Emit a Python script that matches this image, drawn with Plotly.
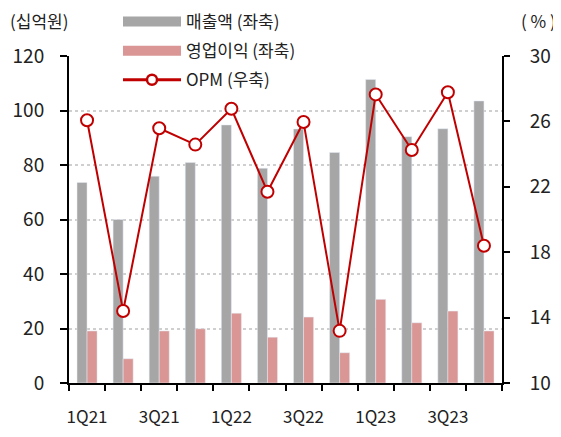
import plotly.graph_objects as go

quarters = ["1Q21", "2Q21", "3Q21", "4Q21", "1Q22", "2Q22", "3Q22", "4Q22",
            "1Q23", "2Q23", "3Q23", "4Q23"]
revenue = [73.6, 60.0, 75.9, 80.9, 94.7, 78.8, 93.2, 84.6, 111.4, 90.4, 93.3, 103.5]
op_profit = [19.1, 8.9, 19.1, 19.9, 25.6, 16.8, 24.2, 11.1, 30.7, 22.1, 26.4, 19.1]
opm = [26.07, 14.40, 25.58, 24.58, 26.77, 21.70, 25.96, 13.19, 27.65, 24.25, 27.78, 18.39]

left_ticks = [0, 20, 40, 60, 80, 100, 120]
right_ticks = [10, 14, 18, 22, 26, 30]

GRAY = "#a6a6a6"
PINK = "#d99694"
RED = "#c00000"
FONT = "Noto Sans CJK KR"

x = list(range(len(quarters)))

fig = go.Figure()
fig.add_trace(go.Bar(x=x, y=revenue, marker_color=GRAY, name="매출액 (좌축)",
                     showlegend=False, yaxis="y"))
fig.add_trace(go.Bar(x=x, y=op_profit, marker_color=PINK, name="영업이익 (좌축)",
                     showlegend=False, yaxis="y"))
fig.add_trace(go.Scatter(x=x, y=opm, mode="lines+markers", name="OPM (우축)",
                         line=dict(color=RED, width=2),
                         marker=dict(symbol="circle", size=12, color="white",
                                     line=dict(color=RED, width=2)),
                         yaxis="y2", showlegend=False))

# legend entries
fig.add_trace(go.Scatter(x=[None], y=[None], mode="lines", name="매출액 (좌축)",
                         line=dict(color=GRAY, width=13), legendgroup="a"))
fig.add_trace(go.Scatter(x=[None], y=[None], mode="lines", name="영업이익 (좌축)",
                         line=dict(color=PINK, width=13), legendgroup="b"))
fig.add_trace(go.Scatter(x=[None], y=[None], mode="lines+markers", name="OPM (우축)",
                         line=dict(color=RED, width=3),
                         marker=dict(symbol="circle", size=10, color="white",
                                     line=dict(color=RED, width=2.5)),
                         legendgroup="c"))

# boundary ticks axis
fig.add_trace(go.Scatter(x=[None], y=[None], xaxis="x2", yaxis="y", showlegend=False))

# page has an 8px body margin; figure sized to fit the 561x437 window
W, H = 553, 429
ml, mr, mt, mb = 61, 59, 48, 54
pw = W - ml - mr
ph = H - mt - mb

fig.update_layout(
    width=W, height=H,
    margin=dict(l=ml, r=mr, t=mt, b=mb, autoexpand=False),
    paper_bgcolor="white", plot_bgcolor="white",
    font=dict(family=FONT, color="#222222", size=17),
    barmode="group", bargap=0.444, bargroupgap=0,
    xaxis=dict(range=[-0.5, 11.5], tickvals=x[::2], ticktext=quarters[::2],
               showgrid=False, zeroline=False, showline=False, ticks="",
               tickangle=0, automargin=False,
               ticklabelstandoff=22, tickfont=dict(size=17)),
    xaxis2=dict(overlaying="x", range=[-0.5, 11.5], side="bottom",
                tickvals=[i - 0.5 for i in range(len(quarters) + 1)],
                ticktext=[""] * (len(quarters) + 1), automargin=False,
                ticks="outside", ticklen=6, tickwidth=2, tickcolor="black",
                showline=True, linecolor="black", linewidth=2,
                showgrid=False, zeroline=False),
    yaxis=dict(range=[0, 120], tickvals=left_ticks, showline=True, linecolor="black",
               linewidth=2, ticks="outside", ticklen=7, tickwidth=2, tickcolor="black",
               showgrid=True, gridcolor="#cfcfcf", griddash="dot", gridwidth=1.5,
               zeroline=False, ticklabelstandoff=12, tickfont=dict(size=19),
               automargin=False),
    yaxis2=dict(range=[10, 30], tickvals=right_ticks, overlaying="y", side="right",
                showline=True, linecolor="black", linewidth=2, ticks="outside",
                ticklen=6, tickwidth=2, tickcolor="black", showgrid=False,
                zeroline=False, ticklabelstandoff=16, tickfont=dict(size=19),
                automargin=False),
    legend=dict(x=(110 - ml) / pw, y=1 + (mt + 4) / ph,
                xanchor="left", yanchor="top", bgcolor="rgba(0,0,0,0)",
                itemwidth=58, tracegroupgap=4, traceorder="grouped",
                font=dict(size=17, family=FONT)),
    annotations=[
        dict(text="(십억원)", xref="paper", yref="paper", x=-ml / pw, y=1 + (mt - 13) / ph,
             xanchor="left", yanchor="middle", showarrow=False,
             font=dict(size=17, family=FONT)),
        dict(text="( % )", xref="paper", yref="paper", x=1 + 56 / pw, y=1 + (mt - 13) / ph,
             xanchor="right", yanchor="middle", showarrow=False,
             font=dict(size=17, family=FONT)),
    ],
)

fig.write_html("out.html")
